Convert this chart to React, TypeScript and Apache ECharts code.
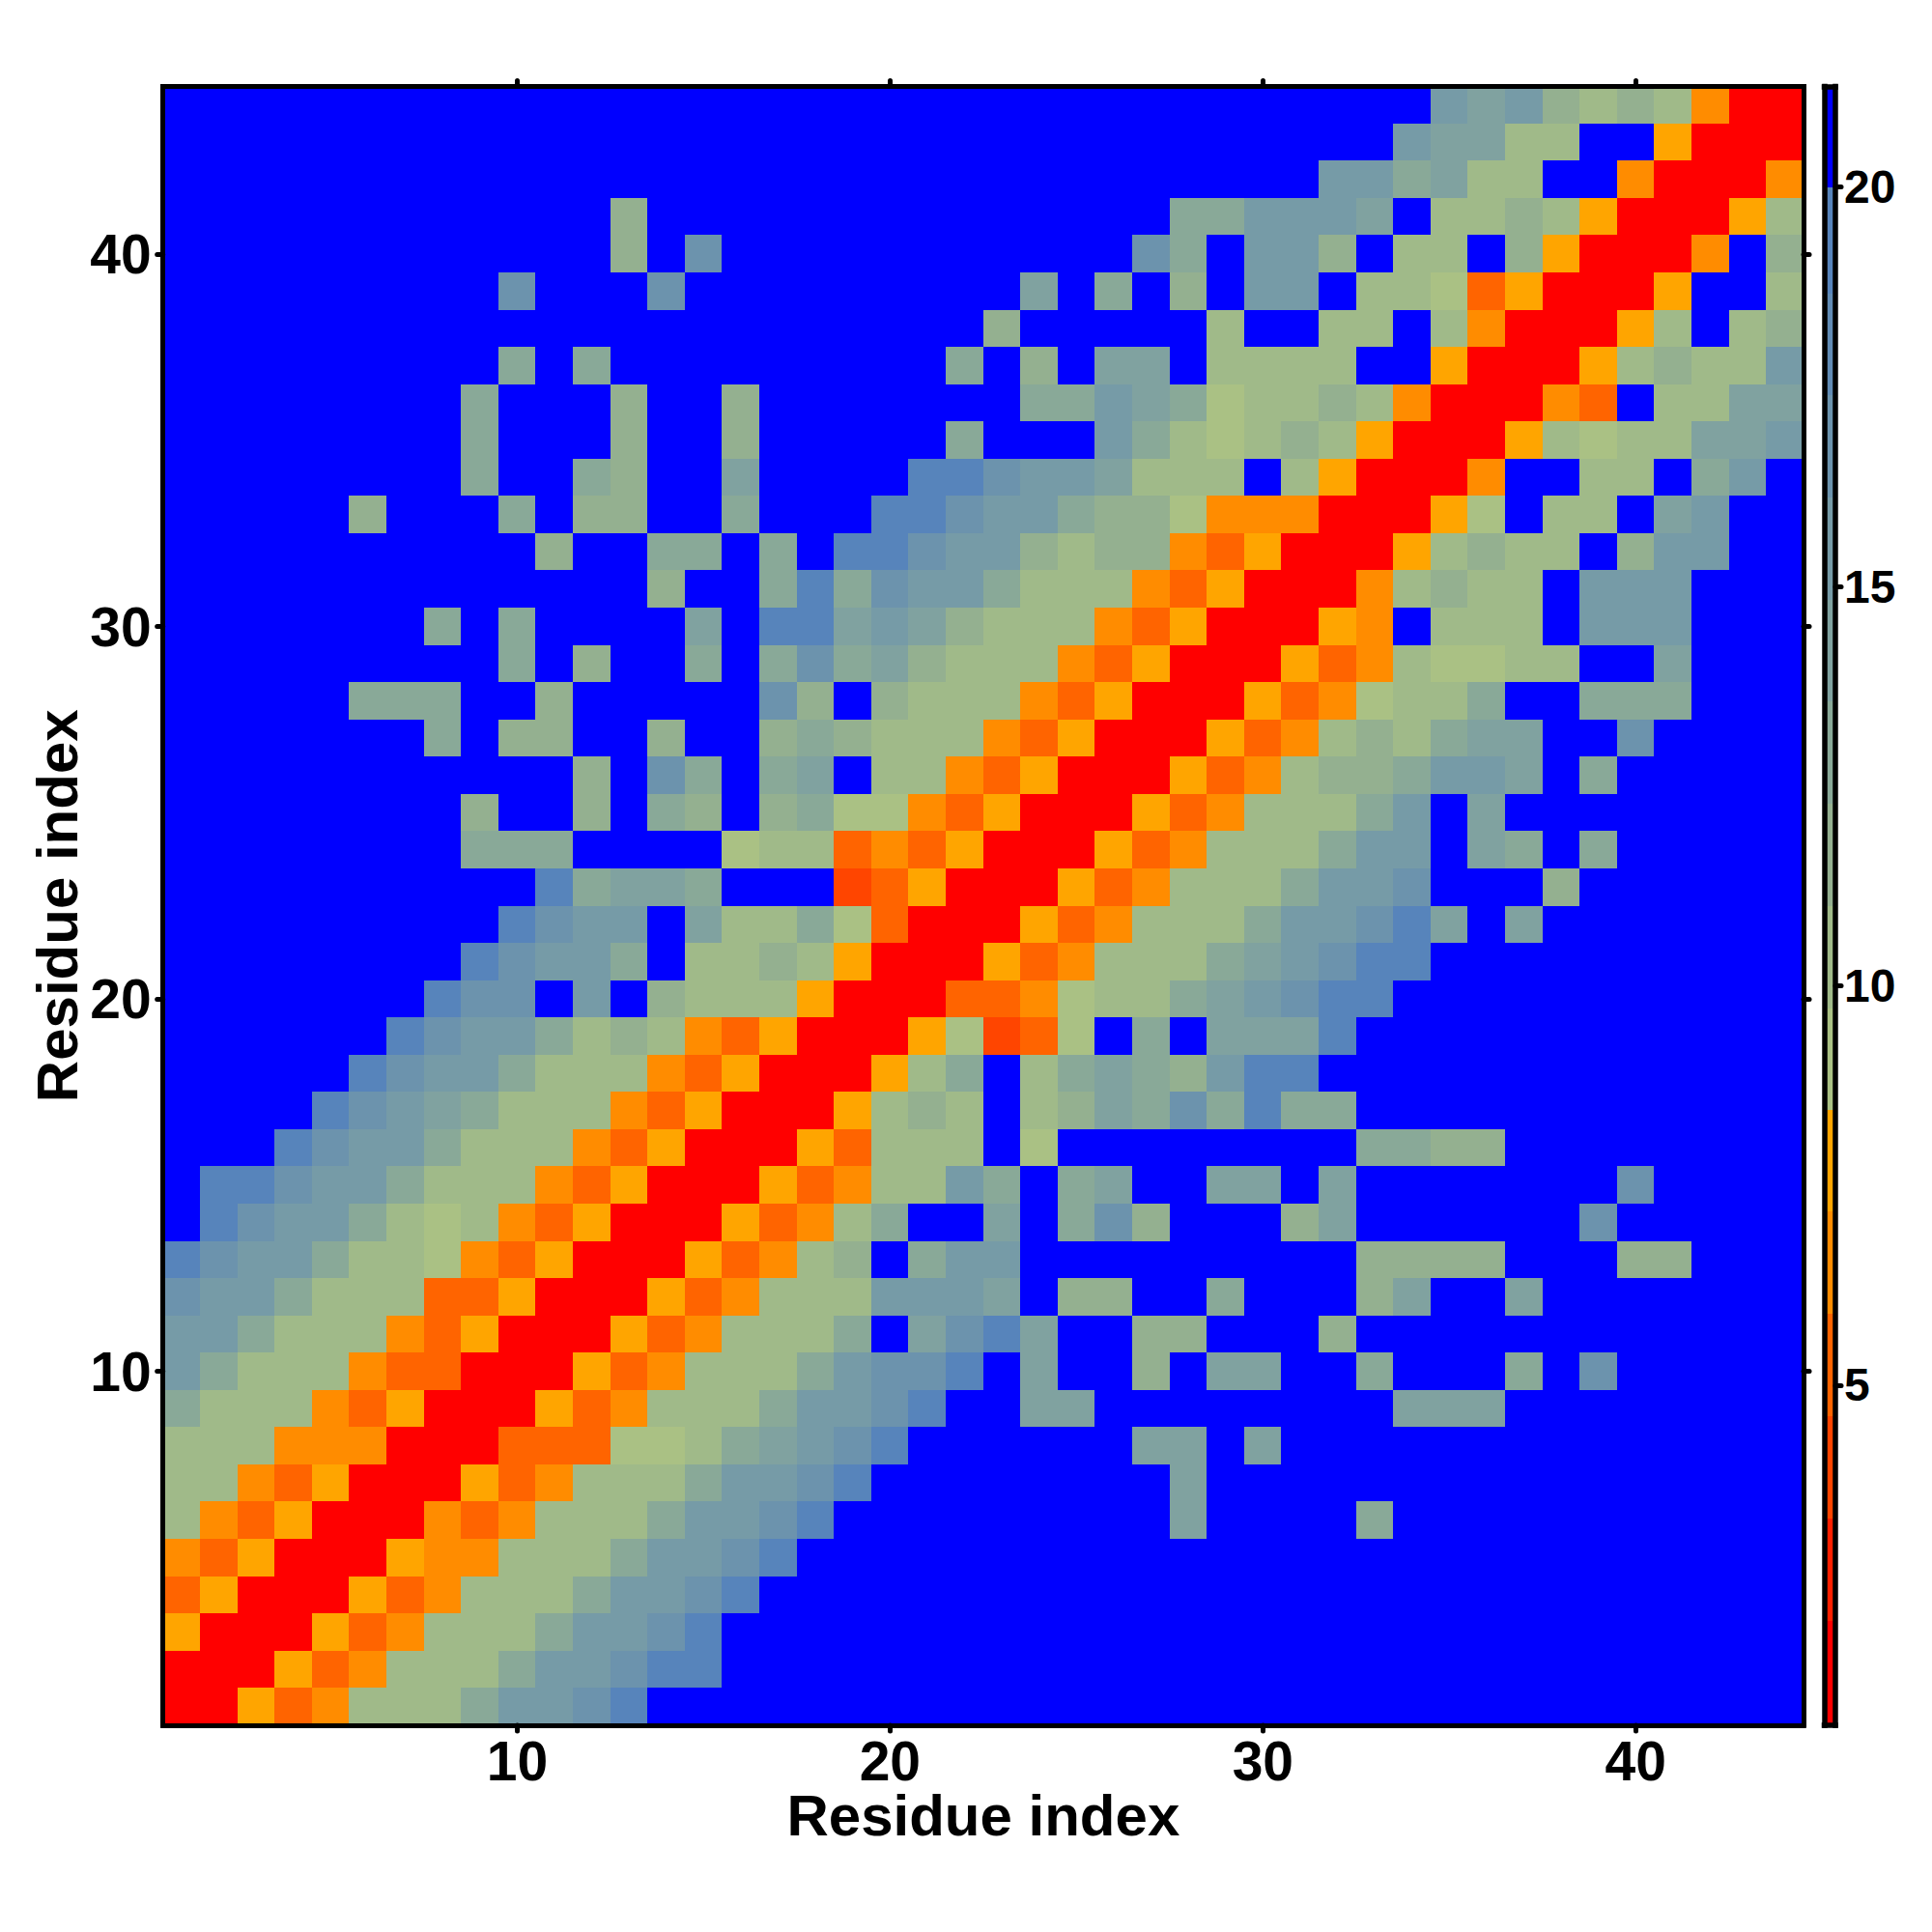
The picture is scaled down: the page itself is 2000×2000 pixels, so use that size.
import React, { useEffect, useRef } from "react";
import * as echarts from "echarts";

const residues = Array.from({ length: 44 }, (_, i) => String(i + 1));
const tickResidues = [10, 20, 30, 40];
const barTicks = [5, 10, 15, 20];
const axisName = "Residue index";

// Value scale: 16 bins between these limits
const scaleMin = 0.74;
const scaleMax = 21.26;
const binEdges = [0.74, 2.05, 3.33, 4.61, 5.89, 7.17, 8.44, 9.72, 11.0, 12.28, 13.56, 14.83, 16.11, 17.39, 18.67, 20.0, 21.26];
const binColors = ["#ff0000", "#ff2000", "#ff4500", "#ff6400", "#ff8c00", "#ffa500", "#aac184", "#a0ba89", "#94b090", "#89a998", "#80a2a0", "#769ba7", "#6c93ad", "#618bb4", "#5784bb", "#0000ff"];
const binCodes = ["R", "P", "N", "M", "L", "K", "a", "b", "c", "d", "e", "f", "g", "h", "i", "."];
const binValues = [1.4, 2.7, 4.0, 5.25, 6.5, 7.8, 9.1, 10.4, 11.6, 12.9, 14.2, 15.5, 16.8, 18.0, 19.3, 20.6];

// Residue-pair matrix, row 44 first. "12." means twelve "." cells.
const matrixRows = [
  "34.fefcbcbLRR",
  "33.feebb..KRRR",
  "31.ffdebb..LRRRL",
  "12.c14.ddfffe.bbcbKRRRKb",
  "12.c.g11.gd.ffc.bb.cKRRRL.c",
  "9.g...g9.e.d.c.ff.bbaMKRRRK..b",
  "22.c5.b..bb.bLRRRKb.bc",
  "9.d.d9.d.c.ee.bbbb..KRRRKbcbbf",
  "8.d...c..c7.ddfedabbcbLRRRLM.bbee",
  "8.d...c..c5.d...fdbabcbKRRRKbabbeef",
  "8.d..dc..e4.iigffebbb.bKRRRL..bb.df.",
  "5.c...d.cc..d...iigffdccaLLLRRRKa.bb.ef..",
  "10.c..dd.d.iigffcbccLMKRRRKbcbb.cff..",
  "13.c..didgffdbbbLMKRRRLbcbb.fff...",
  "7.d.d4.e.iiefecbbbLMKRRRKL.bbb.fff...",
  "9.d.c..d.dgdecbbbLMKRRRKMLbaabb..e...",
  "5.ddd..c5.gc.cbbbLMKRRRKMLabbd..ddd...",
  "7.d.cc..c..cdcbbbLMKRRRKMLbcbdee..g4.",
  "11.c.gd.de.bbLMKRRRKMLbccdffe.d5.",
  "8.c..c.dc.cdaaLMKRRRKMLbbbdf.e8.",
  "8.ddd4.abbMLMKRRRKMLbbbdff.ed.d5.",
  "10.ideed3.NMKRRRKMLbbbdffg3.c6.",
  "9.igff.ebbdaMRRRKMLbbbdffgie.e7.",
  "8.igffd.bbcbKRRRKMLbbbdefgii10.",
  "7.igg.f.cbbbKRRRMMLabbdefgii11.",
  "6.igffdbcbLMKRRRKaNMa.d.eeei12.",
  "5.igffdbbbLMKRRRKbd.bdedcfii13.",
  "4.igfedbbbLMKRRRKbcb.bcedgdidd12.",
  "3.igffdbbbLMKRRRKMbbb.a8.ddcc8.",
  ".iigffdbbbLMKRRRKMLbbfd.de..ee.e7.g4.",
  ".igffdbabLMKRRRKMLbd..e.dgc...ce6.g5.",
  "igffdbbaLMKRRRKMLbc.dff9.cccc...cc...",
  "gffdbbbMMKRRRKMLbbbfffe.cc..d...ce..e7.",
  "ffdbbbLMKRRRKMLbbbd.egie..cc...c12.",
  "fdbbbLMMRRRKMLbbbdfggi.e..c.ee..d...d.g5.",
  "dbbbLMKRRRKMLbbbdffgi..ee8.eee8.",
  "bbbLLLRRRMMMaabdefgi6.ee.e14.",
  "bbLMKRRRKMLbbbdffgi8.e16.",
  "bLMKRRRLMLbbbdffgi9.e4.d11.",
  "LMKRRRKLLbbbdffgi27.",
  "MKRRRKMLbbbdffgi28.",
  "KRRRKMLbbbdffgi29.",
  "RRRKMLbbbdffgii29.",
  "RRKMLbbbdffgi31.",
];

const expandRow = (row: string) => row.replace(/(\d+)\./g, (_, n) => ".".repeat(Number(n)));

const cells: number[][] = [];
matrixRows.forEach((row, rowIdx) => {
  const text = expandRow(row);
  if (text.length !== 44) console.error("row length", 44 - rowIdx, text.length);
  for (let col = 0; col < 44; col++) {
    cells.push([col, 43 - rowIdx, binValues[binCodes.indexOf(text[col])]]);
  }
});

const FONT = "Liberation Sans";
const isTick = (i: number) => tickResidues.includes(i + 1);

const lineStyle = { color: "#000", width: 5, cap: "square" };
const tickStyle = { color: "#000", width: 5, cap: "round" };

function catAxis(position: string, gridIndex: number, withText: boolean) {
  return {
    type: "category",
    gridIndex,
    position,
    z: 5,
    data: residues,
    boundaryGap: true,
    axisLine: { show: true, onZero: false, lineStyle },
    axisTick: { show: true, alignWithLabel: true, interval: isTick, length: 6, inside: false, lineStyle: tickStyle },
    axisLabel: withText
      ? { show: true, interval: isTick, color: "#000", fontFamily: FONT, fontWeight: "bold", fontSize: 57, margin: position === "left" ? 12 : 8 }
      : { show: false },
    splitLine: { show: false },
    splitArea: { show: false },
  };
}

export default function App() {
  const ref = useRef<HTMLDivElement>(null);
  useEffect(() => {
    const chart = echarts.init(ref.current!, undefined, { renderer: "svg" });
    const increments = binEdges.slice(1).map((e, i) => (i === 0 ? e : e - binEdges[i]));
    const barAxisLine = { show: true, onZero: false, lineStyle: { color: "#000", width: 5.5, cap: "square" } };
    chart.setOption({
      animation: false,
      backgroundColor: "#fff",
      grid: [
        { left: 168.7, top: 89.5, width: 1698.3, height: 1696.5, outerBoundsMode: "none" },
        { left: 1888.5, top: 89.5, width: 11.5, height: 1696.5, outerBoundsMode: "none" },
      ],
      xAxis: [
        {
          ...catAxis("bottom", 0, true),
          name: axisName,
          nameLocation: "middle",
          nameGap: 63,
          nameMoveOverlap: false,
          nameTextStyle: { color: "#000", fontFamily: FONT, fontWeight: "bold", fontSize: 60 },
        },
        catAxis("top", 0, false),
        { type: "category", gridIndex: 1, position: "bottom", z: 5, data: ["scale"], axisLine: barAxisLine, axisTick: { show: false }, axisLabel: { show: false } },
        { type: "category", gridIndex: 1, position: "top", z: 5, data: ["scale"], axisLine: barAxisLine, axisTick: { show: false }, axisLabel: { show: false } },
      ],
      yAxis: [
        {
          ...catAxis("left", 0, true),
          name: axisName,
          nameLocation: "middle",
          nameGap: 79,
          nameMoveOverlap: false,
          nameTextStyle: { color: "#000", fontFamily: FONT, fontWeight: "bold", fontSize: 60 },
        },
        catAxis("right", 0, false),
        {
          type: "value", gridIndex: 1, position: "left", z: 5, min: scaleMin, max: scaleMax,
          axisLine: barAxisLine, axisTick: { show: false }, axisLabel: { show: false }, splitLine: { show: false },
        },
        {
          type: "value", gridIndex: 1, position: "right", z: 5, min: scaleMin, max: scaleMax,
          axisLine: barAxisLine,
          axisTick: { show: true, length: 6, customValues: barTicks, lineStyle: tickStyle },
          axisLabel: { show: true, customValues: barTicks, margin: 9, color: "#000", fontFamily: FONT, fontWeight: "bold", fontSize: 48 },
          splitLine: { show: false },
        },
      ],
      visualMap: {
        show: false,
        type: "piecewise",
        seriesIndex: 0,
        dimension: 2,
        pieces: binColors.map((color, i) => ({ min: binEdges[i], max: binEdges[i + 1], color })),
      },
      series: [
        {
          type: "heatmap",
          xAxisIndex: 0,
          yAxisIndex: 0,
          data: cells,
          progressive: 0,
          emphasis: { disabled: true },
          itemStyle: { borderWidth: 0 },
        },
        ...increments.map((v, i) => ({
          type: "bar",
          xAxisIndex: 2,
          yAxisIndex: 2,
          stack: "scale",
          barWidth: "100%",
          data: [v],
          itemStyle: { color: binColors[i] },
          emphasis: { disabled: true },
          silent: true,
        })),
      ],
    });
    return () => chart.dispose();
  }, []);
  return (
    <>
      <style>{"svg path:not([stroke]) { shape-rendering: crispEdges; }"}</style>
      <div
        ref={ref}
        style={{ position: "absolute", left: 0, top: 0, width: 2000, height: 2000, background: "#fff" }}
      />
    </>
  );
}
